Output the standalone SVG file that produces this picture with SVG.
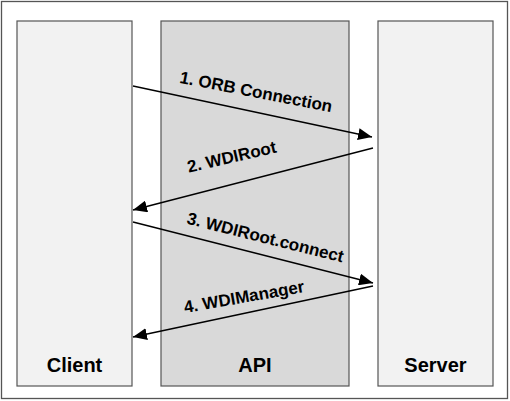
<svg xmlns="http://www.w3.org/2000/svg" width="510" height="401" viewBox="0 0 510 401">
<style>
.box{stroke:#555;stroke-width:1.2}
.lane{fill:#f2f2f2}
.api{fill:#d9d9d9}
.conn{stroke:#000;stroke-width:1.3;fill:none;marker-end:url(#ah)}
.lbl{font-family:"Liberation Sans",Arial,sans-serif;font-weight:bold;font-size:17px;fill:#000;text-anchor:middle}
.title{font-family:"Liberation Sans",Arial,sans-serif;font-weight:bold;font-size:20px;fill:#000;text-anchor:middle}
</style>
<defs>
<marker id="ah" markerWidth="14" markerHeight="12" refX="14" refY="6" orient="auto" markerUnits="userSpaceOnUse">
<path d="M0,0 L14,6 L0,12 Z" fill="#000"/>
</marker>
</defs>
<rect x="1.5" y="1.5" width="506" height="397" fill="#fff" stroke="#555" stroke-width="1.3"/>
<g id="client">
<rect class="box lane" x="17" y="21" width="115" height="365"/>
<text class="title" x="74.5" y="372">Client</text>
</g>
<g id="api">
<rect class="box api" x="161" y="21" width="188" height="365"/>
<text class="title" x="255" y="372">API</text>
</g>
<g id="server">
<rect class="box lane" x="378" y="21" width="115" height="365"/>
<text class="title" x="435.5" y="372">Server</text>
</g>
<g id="connectors">
<line class="conn" x1="133" y1="86" x2="372" y2="137"/>
<line class="conn" x1="373" y1="148" x2="133" y2="210"/>
<line class="conn" x1="133" y1="222" x2="373" y2="283"/>
<line class="conn" x1="373" y1="286" x2="133" y2="337"/>
<text class="lbl" transform="translate(255,97.5) rotate(11)">1. ORB Connection</text>
<text class="lbl" transform="translate(233,162.5) rotate(-13)">2. WDIRoot</text>
<text class="lbl" transform="translate(264,243) rotate(14)">3. WDIRoot.connect</text>
<text class="lbl" transform="translate(245,302.5) rotate(-10)">4. WDIManager</text>
</g>
</svg>
